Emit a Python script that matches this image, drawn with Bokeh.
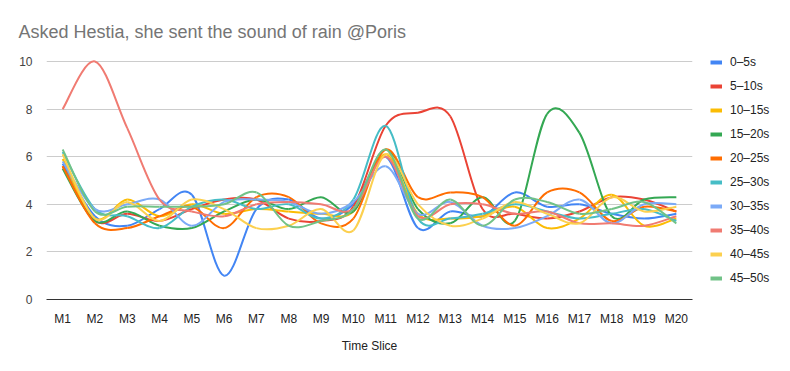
import numpy as np
from bokeh.plotting import figure
from bokeh.models import Range1d, FixedTicker, Legend, LegendItem, ColumnDataSource
from bokeh.embed import file_html
from bokeh.resources import INLINE

title_text = "Asked Hestia, she sent the sound of rain @Poris"
x_title = "Time Slice"
slices = ["M1", "M2", "M3", "M4", "M5", "M6", "M7", "M8", "M9", "M10",
          "M11", "M12", "M13", "M14", "M15", "M16", "M17", "M18", "M19", "M20"]
y_ticks = [0, 2, 4, 6, 8, 10]

names = ["0–5s", "5–10s", "10–15s", "15–20s", "20–25s",
         "25–30s", "30–35s", "35–40s", "40–45s", "45–50s"]
colors = ["#4285F4", "#EA4335", "#FBBC04", "#34A853", "#FF6D01",
          "#46BDC6", "#7BAAF7", "#F07B72", "#FCD04F", "#71C287"]

s_0_5 = [5.7, 3.5, 3.1, 3.8, 4.4, 1.0, 3.8, 4.2, 3.4, 4.0, 6.0, 3.0, 3.7, 3.5, 4.5, 3.9, 4.0, 3.6, 3.4, 3.6]
s_5_10 = [5.6, 3.3, 3.6, 3.3, 3.8, 4.2, 4.2, 3.4, 3.3, 3.9, 7.3, 7.85, 7.7, 3.8, 3.6, 3.4, 3.7, 4.3, 4.2, 3.7]
s_10_15 = [5.9, 3.4, 4.2, 3.5, 4.0, 3.6, 3.8, 3.7, 3.6, 3.7, 6.1, 3.6, 3.4, 3.5, 3.9, 3.0, 3.4, 4.4, 3.1, 3.4]
s_15_20 = [5.5, 3.3, 3.7, 3.1, 3.0, 3.7, 4.2, 3.8, 4.3, 3.7, 6.3, 3.8, 3.2, 4.3, 3.3, 7.8, 7.0, 3.5, 4.2, 4.3]
s_20_25 = [5.6, 3.2, 3.0, 3.5, 3.9, 3.0, 4.3, 4.3, 3.2, 3.4, 6.3, 4.3, 4.5, 4.3, 3.1, 4.5, 4.5, 3.3, 3.9, 3.7]
s_25_30 = [6.2, 3.8, 3.5, 3.0, 3.9, 4.2, 3.8, 4.0, 3.4, 4.2, 7.3, 3.4, 3.4, 3.6, 4.0, 3.7, 3.4, 3.6, 3.8, 3.3]
s_30_35 = [5.8, 3.8, 4.0, 4.2, 3.1, 4.1, 4.2, 4.1, 3.6, 4.1, 5.6, 3.6, 4.1, 3.1, 3.0, 3.5, 4.2, 3.2, 4.0, 4.0]
s_35_40 = [8.0, 10.0, 7.2, 4.2, 3.7, 3.5, 4.0, 4.1, 4.0, 3.8, 6.0, 3.5, 4.0, 4.0, 3.6, 3.7, 3.2, 3.2, 3.1, 3.5]
s_40_45 = [6.1, 3.4, 4.1, 3.3, 4.2, 3.8, 3.0, 3.1, 3.8, 2.9, 6.1, 4.0, 3.1, 3.4, 4.1, 3.6, 3.2, 4.3, 3.7, 3.9]
s_45_50 = [6.3, 3.7, 3.9, 3.9, 3.9, 4.0, 4.5, 3.1, 3.3, 3.8, 6.3, 3.4, 4.2, 3.1, 4.2, 4.1, 3.6, 3.8, 4.1, 3.2]

series = [s_0_5, s_5_10, s_10_15, s_15_20, s_20_25, s_25_30, s_30_35, s_35_40, s_40_45, s_45_50]

FONT = "Liberation Sans"


def smooth_segments(ys):
    # Catmull-Rom spline expressed as cubic Bezier segments (control points from data)
    n = len(ys)
    xs = np.arange(1, n + 1, dtype=float)
    ys = np.asarray(ys, dtype=float)
    px = np.concatenate([[xs[0]], xs, [xs[-1]]])
    py = np.concatenate([[ys[0]], ys, [ys[-1]]])
    k = 1.0 / 6.0
    return dict(
        x0=xs[:-1], y0=ys[:-1], x1=xs[1:], y1=ys[1:],
        cx0=xs[:-1] + (px[2:n + 1] - px[0:n - 1]) * k,
        cy0=ys[:-1] + (py[2:n + 1] - py[0:n - 1]) * k,
        cx1=xs[1:] - (px[3:n + 2] - px[1:n]) * k,
        cy1=ys[1:] - (py[3:n + 2] - py[1:n]) * k,
    )


FRAME_W, FRAME_H = 646, 249
B_LEFT, B_RIGHT, B_TOP, B_BOTTOM = 46, 82, 50, 56
ITEM_H = 24
# the value-10 gridline sits 11px below the frame top
y_end = 10 * FRAME_H / (FRAME_H - 11)

p = figure(frame_width=FRAME_W, frame_height=FRAME_H,
           output_backend="svg", toolbar_location=None,
           x_range=Range1d(0.5, len(slices) + 0.5), y_range=Range1d(0, y_end),
           min_border_left=B_LEFT, min_border_right=B_RIGHT,
           min_border_top=B_TOP, min_border_bottom=B_BOTTOM)
p.outline_line_color = None
p.background_fill_color = "white"
p.border_fill_color = "white"

items = []
for name, col, ys in zip(names, colors, series):
    src = ColumnDataSource(smooth_segments(ys))
    p.bezier(x0="x0", y0="y0", x1="x1", y1="y1", cx0="cx0", cy0="cy0",
             cx1="cx1", cy1="cy1", source=src, line_color=col, line_width=2)
    # legend swatch only (thicker), no drawable point
    sw = p.line(x=[np.nan], y=[np.nan], line_color=col, line_width=4)
    items.append(LegendItem(label=name, renderers=[sw]))

# legend bottom sits 9px above the frame bottom, 18px right of the frame
legend = Legend(items=items, location=(18, FRAME_H - len(names) * ITEM_H - 0), orientation="vertical",
                label_text_font=FONT, label_text_font_size="12px", label_text_color="#222222",
                glyph_width=12, glyph_height=ITEM_H, label_height=ITEM_H, spacing=0,
                padding=0, margin=0, label_standoff=8,
                border_line_color=None, background_fill_alpha=0)
legend.location = (18, 9)
p.add_layout(legend, "right")

# title
p.title.text = title_text
p.title.text_font = FONT
p.title.text_font_size = "18px"
p.title.text_font_style = "normal"
p.title.text_color = "#757575"
p.title.offset = -28
p.title.standoff = 17

# x axis
p.xaxis.ticker = FixedTicker(ticks=list(range(1, len(slices) + 1)))
p.xaxis.major_label_overrides = {i + 1: s for i, s in enumerate(slices)}
p.xaxis.axis_label = x_title
p.xaxis.axis_label_text_font = FONT
p.xaxis.axis_label_text_font_size = "12px"
p.xaxis.axis_label_text_font_style = "normal"
p.xaxis.axis_label_text_color = "#222222"
p.xaxis.axis_label_standoff = 10
p.xaxis.major_label_text_font = FONT
p.xaxis.major_label_text_font_size = "12px"
p.xaxis.major_label_text_color = "#222222"
p.xaxis.major_label_standoff = 6
p.xaxis.major_tick_line_color = None
p.xaxis.minor_tick_line_color = None
p.xaxis.axis_line_color = "#333333"
p.xgrid.grid_line_color = None

# y axis
p.yaxis.ticker = FixedTicker(ticks=y_ticks)
p.yaxis.major_label_text_font = FONT
p.yaxis.major_label_text_font_size = "12px"
p.yaxis.major_label_text_color = "#444444"
p.yaxis.major_label_standoff = 8
p.yaxis.major_tick_line_color = None
p.yaxis.minor_tick_line_color = None
p.yaxis.axis_line_color = None
p.ygrid.grid_line_color = "#cccccc"
p.ygrid.ticker = FixedTicker(ticks=y_ticks)

open("out.html", "w").write(file_html(p, INLINE))
